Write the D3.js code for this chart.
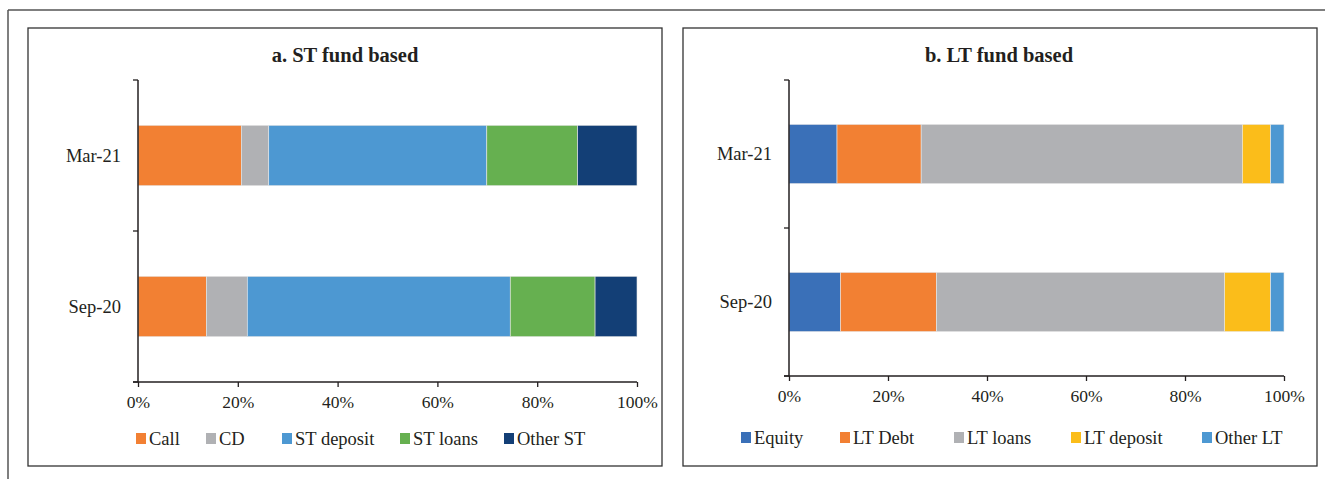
<!DOCTYPE html>
<html>
<head>
<meta charset="utf-8">
<script src="https://cdn.jsdelivr.net/npm/d3@7"></script>
<style>
  body { margin: 0; background: #fff; }
  svg text { font-family: "Liberation Serif", "Times New Roman", serif; fill: #231f20; }
</style>
</head>
<body>
<svg id="chart" width="1325" height="479"></svg>
<script>
// categories, top to bottom
const periods = ["Mar-21", "Sep-20"];
const tickLabels = ["0%", "20%", "40%", "60%", "80%", "100%"];

// a. ST fund based (share, %)
const stSeries = ["Call", "CD", "ST deposit", "ST loans", "Other ST"];
const stColors = ["#f28033", "#b0b1b4", "#4d98d2", "#66b050", "#133f76"];
const stCall = [20.7, 13.7];
const stCD = [5.5, 8.2];
const stDeposit = [43.7, 52.7];
const stLoans = [18.2, 17.0];
const stOther = [11.9, 8.4];

// b. LT fund based (share, %)
const ltSeries = ["Equity", "LT Debt", "LT loans", "LT deposit", "Other LT"];
const ltColors = ["#3a70b8", "#f28033", "#b0b1b4", "#fbbd1a", "#4d98d2"];
const ltEquity = [9.7, 10.4];
const ltDebt = [17.0, 19.4];
const ltLoans = [64.9, 58.2];
const ltDeposit = [5.7, 9.3];
const ltOther = [2.7, 2.7];

const svg = d3.select("#chart");

// page frame lines (top and left)
svg.append("line").attr("x1", 8).attr("x2", 1325).attr("y1", 10).attr("y2", 10)
  .attr("stroke", "#555").attr("stroke-width", 1.5);
svg.append("line").attr("x1", 8).attr("x2", 8).attr("y1", 10).attr("y2", 479)
  .attr("stroke", "#555").attr("stroke-width", 1.5);

function drawPanel(opt) {
  const g = svg.append("g");

  g.append("rect")
    .attr("x", opt.box[0]).attr("y", opt.box[1])
    .attr("width", opt.box[2]).attr("height", opt.box[3])
    .attr("fill", "none").attr("stroke", "#333").attr("stroke-width", 1.3);

  g.append("text")
    .attr("x", opt.titleX).attr("y", 62)
    .attr("text-anchor", "middle")
    .attr("font-size", "20.5px").attr("font-weight", "bold")
    .text(opt.title);

  const x = d3.scaleLinear().domain([0, 100]).range([opt.x0, opt.x1]);
  const y = d3.scaleBand().domain(periods).range([opt.yTop, opt.yBot])
    .paddingInner(0.6).paddingOuter(0.3);

  const rows = periods.map(function(p, i) {
    const r = { period: p };
    opt.series.forEach(function(s, j) { r[s] = opt.values[j][i]; });
    return r;
  });
  const stacked = d3.stack().keys(opt.series)(rows);

  g.selectAll("g.layer")
    .data(stacked)
    .enter()
    .append("g")
    .attr("class", "layer")
    .attr("fill", function(d, i) { return opt.colors[i]; })
    .selectAll("rect")
    .data(function(d) { return d; })
    .enter()
    .append("rect")
    .attr("x", function(d) { return x(d[0]); })
    .attr("y", function(d) { return y(d.data.period); })
    .attr("width", function(d) { return x(d[1]) - x(d[0]); })
    .attr("height", y.bandwidth())
    .attr("stroke", "#e8e8e8")
    .attr("stroke-width", 0.6);

  // y axis with ticks between categories
  const yEdges = [opt.yTop, (opt.yTop + opt.yBot) / 2, opt.yBot];
  g.append("line").attr("x1", opt.x0).attr("x2", opt.x0)
    .attr("y1", opt.yTop).attr("y2", opt.yBot)
    .attr("stroke", "#231f20").attr("stroke-width", 1.5);
  g.selectAll("line.ytick").data(yEdges).enter().append("line")
    .attr("class", "ytick")
    .attr("x1", opt.x0 - 5).attr("x2", opt.x0)
    .attr("y1", function(d) { return d; }).attr("y2", function(d) { return d; })
    .attr("stroke", "#231f20").attr("stroke-width", 1.3);
  g.selectAll("text.ylab").data(periods).enter().append("text")
    .attr("class", "ylab")
    .attr("x", opt.x0 - 17)
    .attr("y", function(d) { return y(d) + y.bandwidth() / 2; })
    .attr("dy", "0.35em")
    .attr("text-anchor", "end")
    .attr("font-size", "18.5px")
    .text(function(d) { return d; });

  // x axis
  const xAxis = d3.axisBottom(x)
    .tickValues([0, 20, 40, 60, 80, 100])
    .tickFormat(function(d, i) { return tickLabels[i]; })
    .tickSize(5)
    .tickSizeOuter(0);
  const ax = g.append("g")
    .attr("transform", "translate(0," + opt.yBot + ")")
    .call(xAxis);
  ax.select(".domain").attr("stroke", "#231f20").attr("stroke-width", 1.5)
    .attr("d", "M" + (opt.x0 - 5) + ",0H" + opt.x1);
  ax.selectAll(".tick line").attr("stroke", "#231f20").attr("stroke-width", 1.3);
  ax.selectAll(".tick text")
    .attr("y", 14)
    .attr("font-family", "Liberation Serif, serif")
    .attr("font-size", "17.5px")
    .attr("fill", "#231f20");

  // legend
  const leg = g.selectAll("g.leg").data(opt.series).enter().append("g")
    .attr("class", "leg")
    .attr("transform", function(d, i) { return "translate(" + opt.legX[i] + "," + opt.legY + ")"; });
  leg.append("rect")
    .attr("x", 0).attr("y", -6).attr("width", 10).attr("height", 11)
    .attr("fill", function(d, i) { return opt.colors[i]; });
  leg.append("text")
    .attr("x", 13).attr("y", 0).attr("dy", "0.35em")
    .attr("font-size", "18.5px")
    .text(function(d) { return d; });
}

drawPanel({
  box: [28, 28, 634, 438],
  title: "a. ST fund based",
  titleX: 345,
  series: stSeries,
  colors: stColors,
  values: [stCall, stCD, stDeposit, stLoans, stOther],
  x0: 138, x1: 637,
  yTop: 80, yBot: 382,
  legY: 439,
  legX: [136, 206, 282, 400, 504]
});

drawPanel({
  box: [683, 28, 634, 438],
  title: "b. LT fund based",
  titleX: 999,
  series: ltSeries,
  colors: ltColors,
  values: [ltEquity, ltDebt, ltLoans, ltDeposit, ltOther],
  x0: 789, x1: 1284,
  yTop: 80, yBot: 376,
  legY: 438,
  legX: [741, 840, 954, 1071, 1202]
});
</script>
</body>
</html>
